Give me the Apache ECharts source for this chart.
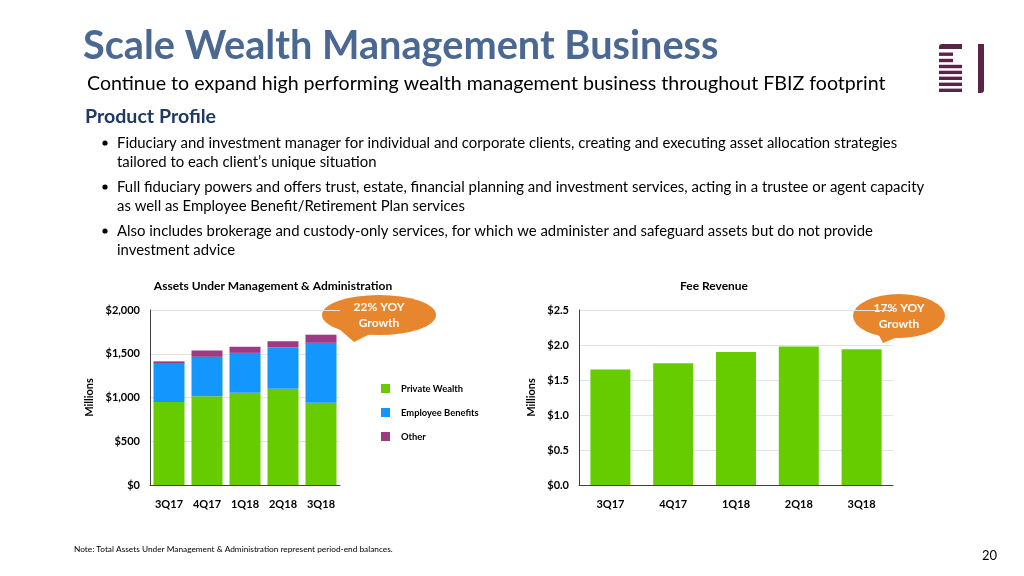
<!DOCTYPE html>
<html><head><meta charset="utf-8">
<script src="https://cdn.jsdelivr.net/npm/echarts@6/dist/echarts.min.js"></script>
<style>html,body{margin:0;padding:0;background:#fff}#c{width:1024px;height:576px}</style>
</head><body><div id="c"></div>
<script>
const categories = ['3Q17','4Q17','1Q18','2Q18','3Q18'];
const privateWealth = [950, 1015, 1055, 1100, 940];
const employeeBenefits = [435, 450, 455, 470, 685];
const otherAssets = [28, 72, 70, 73, 93];
const feeRevenue = [1.65, 1.74, 1.90, 1.98, 1.94];
const aumTicks = [0, 500, 1000, 1500, 2000];
const feeTicks = [0, 0.5, 1.0, 1.5, 2.0, 2.5];

const F = 'Lato, "Open Sans", sans-serif';
const GREEN = '#66CC00', BLUE = '#1496FF', PURPLE = '#9E3A84', ORANGE = '#E8862E';
const chart = echarts.init(document.getElementById('c'));

function bubble(cx, cy, rx, ry, tail, l1, l2) {
  return {
    type: 'group', children: [
      { type: 'polygon', shape: { points: tail }, style: { fill: ORANGE } },
      { type: 'circle', x: cx, y: cy, scaleX: rx / ry, shape: { cx: 0, cy: 0, r: ry }, style: { fill: ORANGE } },
      { type: 'text', x: cx, y: cy - 8, style: { text: l1, fill: '#fff', font: 'bold 12px ' + F, textAlign: 'center', textVerticalAlign: 'middle' } },
      { type: 'text', x: cx, y: cy + 8, style: { text: l2, fill: '#fff', font: 'bold 12px ' + F, textAlign: 'center', textVerticalAlign: 'middle' } }
    ]
  };
}

const logo = { type: 'group', children: [] };
const LP = '#5C2349';
logo.children.push({ type: 'rect', shape: { x: 939, y: 44, width: 23, height: 5, r: [3, 0, 0, 0] }, style: { fill: LP } });
[[52.5, 14], [58.8, 14], [64.8, 23], [70.7, 23], [76.6, 23], [82.6, 23], [88.6, 23]].forEach(function (s) {
  logo.children.push({ type: 'rect', shape: { x: 939, y: s[0], width: s[1], height: 3.4 }, style: { fill: LP } });
});
logo.children.push({ type: 'rect', shape: { x: 978, y: 44, width: 6, height: 49, r: [0, 0, 3, 0] }, style: { fill: LP } });

const bullets = [
  ['Fiduciary and investment manager for individual and corporate clients, creating and executing asset allocation strategies', 'tailored to each client\u2019s unique situation'],
  ['Full fiduciary powers and offers trust, estate, financial planning and investment services, acting in a trustee or agent capacity', 'as well as Employee Benefit/Retirement Plan services'],
  ['Also includes brokerage and custody-only services, for which we administer and safeguard assets but do not provide', 'investment advice']
];
const bulletEls = [];
bullets.forEach(function (b, i) {
  const y0 = 143 + i * 44;
  bulletEls.push({ type: 'circle', shape: { cx: 105, cy: y0, r: 2.6 }, style: { fill: '#000' } });
  bulletEls.push({ type: 'text', x: 117, y: y0, style: { text: b[0], fill: '#000', font: '14.9px ' + F, textVerticalAlign: 'middle' } });
  bulletEls.push({ type: 'text', x: 117, y: y0 + 19.5, style: { text: b[1], fill: '#000', font: '14.9px ' + F, textVerticalAlign: 'middle' } });
});

const axisLab = { color: '#000', fontFamily: F, fontWeight: 'bold', fontSize: 11 };

chart.setOption({
  animation: false,
  title: [
    { text: 'Assets Under Management & Administration', left: 268, top: 275, textAlign: 'center', textStyle: { fontFamily: F, fontWeight: 'bold', fontSize: 12, color: '#000' } },
    { text: 'Fee Revenue', left: 709, top: 275, textAlign: 'center', textStyle: { fontFamily: F, fontWeight: 'bold', fontSize: 12, color: '#000' } }
  ],
  legend: {
    left: 376, top: 379, orient: 'vertical', itemWidth: 9, itemHeight: 9, itemGap: 15,
    icon: 'rect', data: ['Private Wealth', 'Employee Benefits', 'Other'],
    textStyle: { fontFamily: F, fontWeight: 'bold', fontSize: 9.4, color: '#000', padding: [0, 0, 0, 6] }
  },
  grid: [
    { left: 150, top: 310, width: 190, height: 175 },
    { left: 579, top: 310, width: 314, height: 175 }
  ],
  xAxis: [
    { type: 'category', gridIndex: 0, data: categories, axisLine: { lineStyle: { color: '#404040' } }, axisTick: { alignWithLabel: true, length: 4, lineStyle: { color: '#404040' } }, axisLabel: Object.assign({ margin: 14 }, axisLab) },
    { type: 'category', gridIndex: 1, data: categories, axisLine: { lineStyle: { color: '#404040' } }, axisTick: { alignWithLabel: true, length: 4, lineStyle: { color: '#404040' } }, axisLabel: Object.assign({ margin: 14 }, axisLab) }
  ],
  yAxis: [
    { type: 'value', gridIndex: 0, min: aumTicks[0], max: aumTicks[aumTicks.length - 1], interval: 500,
      name: 'Millions', nameLocation: 'middle', nameGap: 55, nameTextStyle: { fontFamily: F, fontWeight: 'bold', fontSize: 11, color: '#000' },
      axisLine: { show: true, lineStyle: { color: '#404040' } }, axisTick: { show: false },
      splitLine: { lineStyle: { color: '#E3E3E3' } },
      axisLabel: Object.assign({ margin: 10, formatter: function (v) { return '$' + v.toLocaleString('en-US'); } }, axisLab) },
    { type: 'value', gridIndex: 1, min: feeTicks[0], max: feeTicks[feeTicks.length - 1], interval: 0.5,
      name: 'Millions', nameLocation: 'middle', nameGap: 42, nameTextStyle: { fontFamily: F, fontWeight: 'bold', fontSize: 11, color: '#000' },
      axisLine: { show: true, lineStyle: { color: '#404040' } }, axisTick: { show: false },
      splitLine: { lineStyle: { color: '#E3E3E3' } },
      axisLabel: Object.assign({ margin: 10, formatter: function (v) { return '$' + v.toFixed(1); } }, axisLab) }
  ],
  series: [
    { name: 'Private Wealth', type: 'bar', stack: 'a', xAxisIndex: 0, yAxisIndex: 0, data: privateWealth, barWidth: 31, itemStyle: { color: GREEN } },
    { name: 'Employee Benefits', type: 'bar', stack: 'a', xAxisIndex: 0, yAxisIndex: 0, data: employeeBenefits, barWidth: 31, itemStyle: { color: BLUE } },
    { name: 'Other', type: 'bar', stack: 'a', xAxisIndex: 0, yAxisIndex: 0, data: otherAssets, barWidth: 31, itemStyle: { color: PURPLE } },
    { name: 'Fee Revenue', type: 'bar', xAxisIndex: 1, yAxisIndex: 1, data: feeRevenue, barWidth: 40, itemStyle: { color: GREEN } }
  ],
  graphic: [
    { type: 'text', x: 83, y: 46, style: { text: 'Scale Wealth Management Business', fill: '#4A6891', font: 'bold 39.7px ' + F, textVerticalAlign: 'middle' } },
    { type: 'text', x: 87, y: 84, style: { text: 'Continue to expand high performing wealth management business throughout FBIZ footprint', fill: '#000', font: '19.6px ' + F, textVerticalAlign: 'middle' } },
    { type: 'text', x: 85, y: 117, style: { text: 'Product Profile', fill: '#1F3864', font: 'bold 19.6px ' + F, textVerticalAlign: 'middle' } },
    { type: 'group', children: bulletEls },
    logo,
    bubble(379, 315, 57, 20, [[338, 328], [372, 333], [354, 342]], '22% YOY', 'Growth'),
    bubble(899, 316, 46, 22, [[876, 330], [900, 336], [883, 343]], '17% YOY', 'Growth'),
    { type: 'text', x: 74, y: 549, style: { text: 'Note: Total Assets Under Management & Administration represent period-end balances.', fill: '#000', font: '8.3px ' + F, textVerticalAlign: 'middle' } },
    { type: 'text', x: 997, y: 556, style: { text: '20', fill: '#000', font: '13px ' + F, textAlign: 'right', textVerticalAlign: 'middle' } }
  ]
});
</script></body></html>
